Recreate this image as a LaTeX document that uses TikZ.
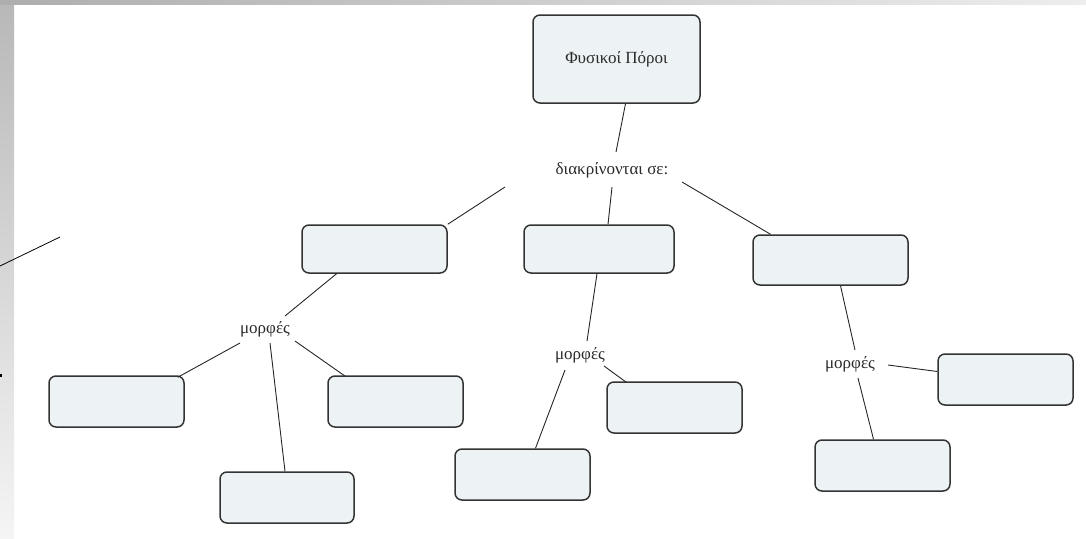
\documentclass[tikz,border=0pt]{standalone}
\usepackage{fontspec}
\setmainfont{Liberation Serif}
\usetikzlibrary{shadows}
\definecolor{boxfill}{HTML}{EDF3F5}
\definecolor{boxline}{HTML}{333333}
\definecolor{txt}{HTML}{2A2A2A}
\begin{document}
\begin{tikzpicture}[x=1pt,y=-1pt,
  cbox/.style={draw=boxline,line width=1.5pt,fill=boxfill,rounded corners=7pt,
    inner sep=0pt,font=\fontsize{17}{19}\selectfont,text=txt,
    drop shadow={shadow xshift=0pt,shadow yshift=0pt,opacity=0.12,fill=gray}},
  lbl/.style={inner sep=1pt,font=\fontsize{17}{19}\selectfont,text=txt},
  conn/.style={draw=black!85,line width=0.9pt}]
\useasboundingbox (0,0) rectangle (1086,538);
% slide frame strips
\shade[top color=black!28,bottom color=black!4] (0,0) rectangle (14,538);
\shade[left color=black!32,right color=black!7] (0,0) rectangle (1086,4);
% left stray line and dot
\coordinate (s1) at (0,266);
\coordinate (s2) at (60,237);
\draw[line width=0.8pt] (s1) -- (s2);
\fill (0,374) rectangle (2,377);
% nodes
\node[cbox,minimum width=167pt,minimum height=88pt] (top) at (616.5,59) {Φυσικοί Πόροι};
\node[lbl] (dia) at (612,170) {διακρίνονται σε:};
\node[cbox,minimum width=145pt,minimum height=48pt] (A) at (374.5,249) {};
\node[cbox,minimum width=150pt,minimum height=48pt] (B) at (599,249) {};
\node[cbox,minimum width=155pt,minimum height=50pt] (C) at (830.5,260) {};
\node[lbl] (mA) at (265,329) {μορφές};
\node[lbl] (mB) at (580,355) {μορφές};
\node[lbl] (mC) at (850,364) {μορφές};
\node[cbox,minimum width=135pt,minimum height=51pt] (A1) at (116.5,401.5) {};
\node[cbox,minimum width=135pt,minimum height=51pt] (A2) at (395.5,401.5) {};
\node[cbox,minimum width=134pt,minimum height=51pt] (A3) at (287,497.5) {};
\node[cbox,minimum width=135pt,minimum height=51pt] (B1) at (522.5,474.5) {};
\node[cbox,minimum width=135pt,minimum height=51pt] (B2) at (674.5,407.5) {};
\node[cbox,minimum width=135pt,minimum height=51pt] (C1) at (1005.5,379.5) {};
\node[cbox,minimum width=135pt,minimum height=51pt] (C2) at (882.5,465.5) {};
% connectors
\draw[conn] ([xshift=9pt]top.south) -- ([xshift=4pt,yshift=18pt]dia.center);
\draw[conn] ([xshift=-107pt,yshift=-17pt]dia.center) -- (A.north east);
\draw[conn] ([yshift=-17pt]dia.center) -- ([xshift=9pt]B.north);
\draw[conn] ([xshift=70pt,yshift=-12pt]dia.center) -- ([xshift=-60pt]C.north);
\draw[conn] ([xshift=-38pt]A.south) -- ([xshift=20pt,yshift=13pt]mA.center);
\draw[conn] ([xshift=-25pt,yshift=-14pt]mA.center) -- ([xshift=-7pt,yshift=-2pt]A1.north east);
\draw[conn] ([xshift=5pt,yshift=-14pt]mA.center) -- ([xshift=-2pt]A3.north);
\draw[conn] ([xshift=30pt,yshift=-12pt]mA.center) -- ([xshift=18pt,yshift=-1pt]A2.north west);
\draw[conn] ([xshift=-2pt]B.south) -- ([xshift=7pt,yshift=14pt]mB.center);
\draw[conn] ([xshift=-15pt,yshift=-15pt]mB.center) -- ([xshift=13pt]B1.north);
\draw[conn] ([xshift=24pt,yshift=-11pt]mB.center) -- ([xshift=20pt,yshift=-1pt]B2.north west);
\draw[conn] ([xshift=10pt]C.south) -- ([xshift=5pt,yshift=14pt]mC.center);
\draw[conn] ([xshift=38pt,yshift=-1pt]mC.center) -- ([yshift=8pt]C1.west);
\draw[conn] ([xshift=8pt,yshift=-14pt]mC.center) -- ([xshift=-9pt]C2.north);
\end{tikzpicture}
\end{document}
